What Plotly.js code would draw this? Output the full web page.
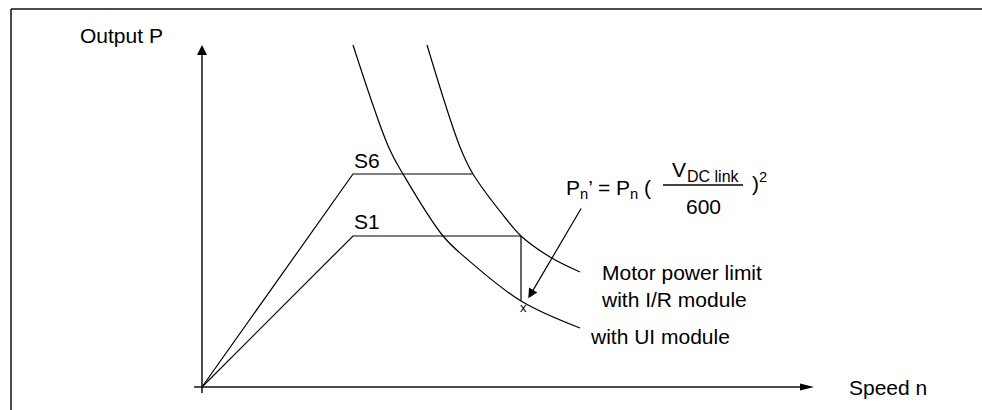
<!DOCTYPE html>
<html>
<head>
<meta charset="utf-8">
<script src="https://cdn.plot.ly/plotly-3.0.1.min.js"></script>
<style>html,body{margin:0;padding:0;background:#fff;}#chart{width:982px;height:410px;}</style>
</head>
<body>
<div id="chart"></div>
<script>
// ---- data (speed n, output P; arbitrary units) ----
const speedS1 = [0, 1.51, 3.19];
const powerS1 = [0, 1.51, 1.51];
const speedS6 = [0, 1.51, 2.71];
const powerS6 = [0, 2.13, 2.13];
const dropSpeed = [3.19, 3.19];
const dropPower = [1.51, 0.86];
const uiSpeed = [1.51, 1.87, 2.01, 2.41, 2.65, 3.19, 3.78];
const uiPower = [3.42, 2.39, 2.13, 1.51, 1.28, 0.86, 0.59];
const irSpeed = [2.25, 2.58, 2.71, 3.05, 3.19, 3.48, 3.78];
const irPower = [3.42, 2.40, 2.13, 1.67, 1.51, 1.30, 1.15];
const labelS1 = "S1";
const labelS6 = "S6";
const labelIR = "Motor power limit<br>with I/R module";
const labelUI = "with UI module";
const xTitle = "Speed n";
const yTitle = "Output P";

const FONT = "Liberation Sans, Arial, Helvetica, sans-serif";
const FS = 21;
const lineStyle = {color: "#000", width: 1.2};

const traces = [
  {x: speedS1, y: powerS1, mode: "lines", line: lineStyle, name: labelS1},
  {x: speedS6, y: powerS6, mode: "lines", line: lineStyle, name: labelS6},
  {x: dropSpeed, y: dropPower, mode: "lines", line: lineStyle, name: "drop"},
  {x: uiSpeed, y: uiPower, mode: "lines", line: Object.assign({shape: "spline", smoothing: 1}, lineStyle), name: labelUI},
  {x: irSpeed, y: irPower, mode: "lines", line: Object.assign({shape: "spline", smoothing: 1}, lineStyle), name: "I/R"}
];

const xAxisStart = -0.08, xAxisEnd = 6.12;
const yAxisStart = -0.06, yAxisEnd = 3.42;
const axisLine = {color: "#111", width: 1.5};

const shapes = [
  // frame
  {type: "line", xref: "paper", yref: "paper", x0: 0.0112, x1: 1, y0: 0.978, y1: 0.978, line: {color: "#111", width: 1.5}},
  {type: "line", xref: "paper", yref: "paper", x0: 0.0112, x1: 0.0112, y0: 0, y1: 0.978, line: {color: "#111", width: 1.5}},
  // axes
  {type: "line", xref: "x", yref: "y", x0: xAxisStart, x1: xAxisEnd - 0.12, y0: 0, y1: 0, line: axisLine},
  {type: "line", xref: "x", yref: "y", x0: 0, x1: 0, y0: yAxisStart, y1: yAxisEnd - 0.08, line: axisLine},
  {type: "path", xref: "x", yref: "y", xsizemode: "pixel", ysizemode: "pixel", xanchor: xAxisEnd, yanchor: 0,
   path: "M0,0 L-14,3.5 L-14,-3.5 Z", fillcolor: "#000", line: {width: 0}},
  {type: "path", xref: "x", yref: "y", xsizemode: "pixel", ysizemode: "pixel", xanchor: 0, yanchor: yAxisEnd,
   path: "M0,0 L-5,-10 L5,-10 Z", fillcolor: "#000", line: {width: 0}},
  // fraction bar
  {type: "line", xref: "x", yref: "y", x0: 4.61, x1: 5.41, y0: 2.02, y1: 2.02, line: {color: "#000", width: 1.5}}
];

function txt(text, x, y, xanchor, size) {
  return {text: text, x: x, y: y, xref: "x", yref: "y", xanchor: xanchor || "left", yanchor: "middle",
          align: "left", showarrow: false, font: {family: FONT, size: size || FS, color: "#000"}};
}

const annotations = [
  txt(yTitle, -1.24, 3.52),
  txt(xTitle, 6.45, 0.0),
  txt(labelS6, 1.50, 2.27),
  txt(labelS1, 1.50, 1.655),
  txt(labelIR, 3.97, 1.01),
  txt(labelUI, 3.86, 0.51),
  txt("x", 3.21, 0.80, "center", 13),
  txt("P<sub>n</sub>’ = P<sub>n</sub> (", 3.62, 1.98),
  txt("V", 4.68, 2.18),
  txt("DC link", 4.83, 2.11, "left", 16),
  txt("600", 5.01, 1.81, "center"),
  txt(")<sup>2</sup>", 5.48, 2.05),
  {x: 3.263, y: 0.887, ax: 3.80, ay: 1.80, xref: "x", yref: "y", axref: "x", ayref: "y",
   showarrow: true, text: "", arrowhead: 2, arrowsize: 1.6, arrowwidth: 1.2, arrowcolor: "#000", standoff: 0}
];

const layout = {
  width: 982, height: 410,
  margin: {l: 0, r: 0, t: 0, b: 0},
  paper_bgcolor: "#fff", plot_bgcolor: "#fff",
  showlegend: false,
  xaxis: {range: [-2.02, 7.80], visible: false, fixedrange: true},
  yaxis: {range: [-0.23, 3.87], visible: false, fixedrange: true},
  shapes: shapes,
  annotations: annotations
};

Plotly.newPlot("chart", traces, layout, {displayModeBar: false, staticPlot: true});
</script>
</body>
</html>
